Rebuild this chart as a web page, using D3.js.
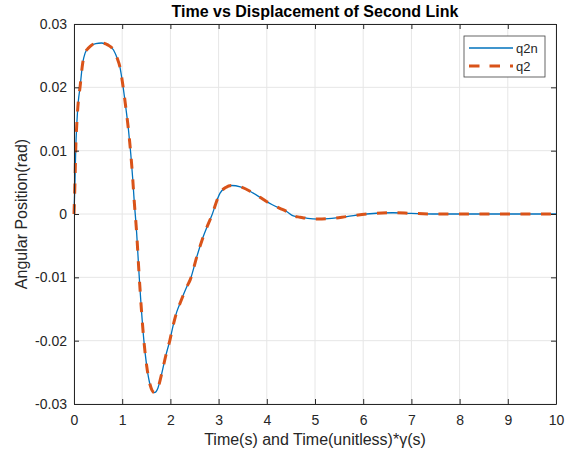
<!DOCTYPE html>
<html>
<head>
<meta charset="utf-8">
<script src="https://cdn.jsdelivr.net/npm/d3@7"></script>
<style>
body { margin: 0; background: #fff; }
text { font-family: "Liberation Sans", Arial, sans-serif; fill: #262626; }
</style>
</head>
<body>
<script>
//data
var time = [0, 0.02, 0.035, 0.06, 0.09, 0.125, 0.18, 0.23, 0.3, 0.37, 0.45, 0.57, 0.7, 0.82, 0.9, 0.95,
    1.02, 1.08, 1.13, 1.22, 1.245, 1.3, 1.35, 1.45, 1.51, 1.58, 1.667, 1.74, 1.82, 1.9, 1.99,
    2.06, 2.13, 2.2, 2.34, 2.41, 2.55, 2.68, 2.86, 3.03, 3.15, 3.27, 3.45, 3.72, 4.01,
    4.27, 4.41, 4.55, 4.69, 4.85, 5.07, 5.35, 5.66, 6.07, 6.62, 7, 7.5, 8, 8.5, 9, 9.5, 10];
var q2n = [0, 0.005, 0.01, 0.0145, 0.0178, 0.02, 0.0238, 0.0254, 0.0262, 0.0267, 0.0269, 0.027, 0.0267, 0.0259, 0.0245, 0.0233,
    0.02, 0.0165, 0.0133, 0.0054, 0.0025, -0.003, -0.0095, -0.02, -0.0241, -0.027, -0.0282, -0.0275, -0.0252, -0.0225, -0.0199,
    -0.0175, -0.0155, -0.0141, -0.0115, -0.0104, -0.0067, -0.0036, -0.0002, 0.0033, 0.0042, 0.0045, 0.0043, 0.0033, 0.0019,
    0.0009, 0.0004, -0.0003, -0.0005, -0.0007, -0.0008, -0.0007, -0.0004, 0, 0.0002, 0.0001, 0, 0, 0, 0, 0, 0];
var q2 = q2n.slice(); //second series overlays the first
var xTicks = [0, 1, 2, 3, 4, 5, 6, 7, 8, 9, 10];
var yTicks = [-0.03, -0.02, -0.01, 0, 0.01, 0.02, 0.03];
var yTickLabels = ["-0.03", "-0.02", "-0.01", "0", "0.01", "0.02", "0.03"];
var seriesNames = ["q2n", "q2"];

window.onload = function(){
    var w = 569, h = 455;
    var left = 74, right = 556, top = 24, bottom = 404;

    var svg = d3.select("body")
        .append("svg")
        .attr("width", w)
        .attr("height", h);

    var x = d3.scaleLinear().domain([0, 10]).range([left, right]);
    var y = d3.scaleLinear().domain([-0.03, 0.03]).range([bottom, top]);

    //grid
    svg.append("g")
        .selectAll("line.vg")
        .data(xTicks)
        .enter()
        .append("line")
        .attr("x1", function(d){ return x(d); })
        .attr("x2", function(d){ return x(d); })
        .attr("y1", top)
        .attr("y2", bottom)
        .style("stroke", "#e6e6e6");
    svg.append("g")
        .selectAll("line.hg")
        .data(yTicks)
        .enter()
        .append("line")
        .attr("y1", function(d){ return y(d); })
        .attr("y2", function(d){ return y(d); })
        .attr("x1", left)
        .attr("x2", right)
        .style("stroke", "#e6e6e6");

    //lines
    var t1 = time.map(function(t, i){ return [t, q2n[i]]; });
    var t2 = time.map(function(t, i){ return [t, q2[i]]; });
    var line = d3.line()
        .x(function(d){ return x(d[0]); })
        .y(function(d){ return y(d[1]); })
        .curve(d3.curveMonotoneX);

    svg.append("path")
        .datum(t1)
        .attr("d", line)
        .style("fill", "none")
        .style("stroke", "#0072BD")
        .style("stroke-width", 1.3);
    svg.append("path")
        .datum(t2)
        .attr("d", line)
        .style("fill", "none")
        .style("stroke", "#D95319")
        .style("stroke-width", 3)
        .style("stroke-dasharray", "10,10.5");

    //axes (box with inward ticks)
    var xAxis = d3.axisBottom(x).tickValues(xTicks).tickSizeInner(-5).tickSizeOuter(0).tickPadding(11);
    var xTop = d3.axisTop(x).tickValues(xTicks).tickSizeInner(-5).tickSizeOuter(0).tickFormat("");
    var yAxis = d3.axisLeft(y).tickValues(yTicks).tickSizeInner(-5).tickSizeOuter(0).tickPadding(7)
        .tickFormat(function(d, i){ return yTickLabels[i]; });
    var yRight = d3.axisRight(y).tickValues(yTicks).tickSizeInner(-5).tickSizeOuter(0).tickFormat("");

    var axes = [
        svg.append("g").attr("transform", "translate(0," + bottom + ")").call(xAxis),
        svg.append("g").attr("transform", "translate(0," + top + ")").call(xTop),
        svg.append("g").attr("transform", "translate(" + left + ",0)").call(yAxis),
        svg.append("g").attr("transform", "translate(" + right + ",0)").call(yRight)
    ];
    axes.forEach(function(a){
        a.select(".domain").style("stroke", "#262626");
        a.selectAll(".tick line").style("stroke", "#262626");
        a.selectAll(".tick text")
            .style("font-size", "14px")
            .style("font-family", "'Liberation Sans', Arial, sans-serif")
            .style("fill", "#262626");
    });

    //title and labels
    svg.append("text")
        .attr("x", (left + right) / 2)
        .attr("y", 17)
        .attr("text-anchor", "middle")
        .style("font-size", "16px")
        .style("font-weight", "bold")
        .style("fill", "#000")
        .text("Time vs Displacement of Second Link");
    svg.append("text")
        .attr("x", (left + right) / 2)
        .attr("y", 445)
        .attr("text-anchor", "middle")
        .style("font-size", "16px")
        .text("Time(s) and Time(unitless)*\u03b3(s)");
    svg.append("text")
        .attr("transform", "translate(27," + (top + bottom) / 2 + ") rotate(-90)")
        .attr("text-anchor", "middle")
        .style("font-size", "16px")
        .text("Angular Position(rad)");

    //legend
    var legend = svg.append("g").attr("transform", "translate(464,36)");
    legend.append("rect")
        .attr("width", 81)
        .attr("height", 41)
        .style("fill", "#fff")
        .style("stroke", "#404040")
        .style("stroke-width", 0.8);
    var entries = legend.selectAll(".entry")
        .data(seriesNames)
        .enter()
        .append("g")
        .attr("transform", function(d, i){ return "translate(0," + (12 + i * 18) + ")"; });
    entries.append("line")
        .attr("x1", 5)
        .attr("x2", 49)
        .style("stroke", function(d, i){ return i === 0 ? "#0072BD" : "#D95319"; })
        .style("stroke-width", function(d, i){ return i === 0 ? 1.3 : 3; })
        .style("stroke-dasharray", function(d, i){ return i === 0 ? null : "10.5,10"; });
    entries.append("text")
        .attr("x", 52)
        .attr("y", 5)
        .style("font-size", "13px")
        .text(function(d){ return d; });
};
</script>
</body>
</html>
